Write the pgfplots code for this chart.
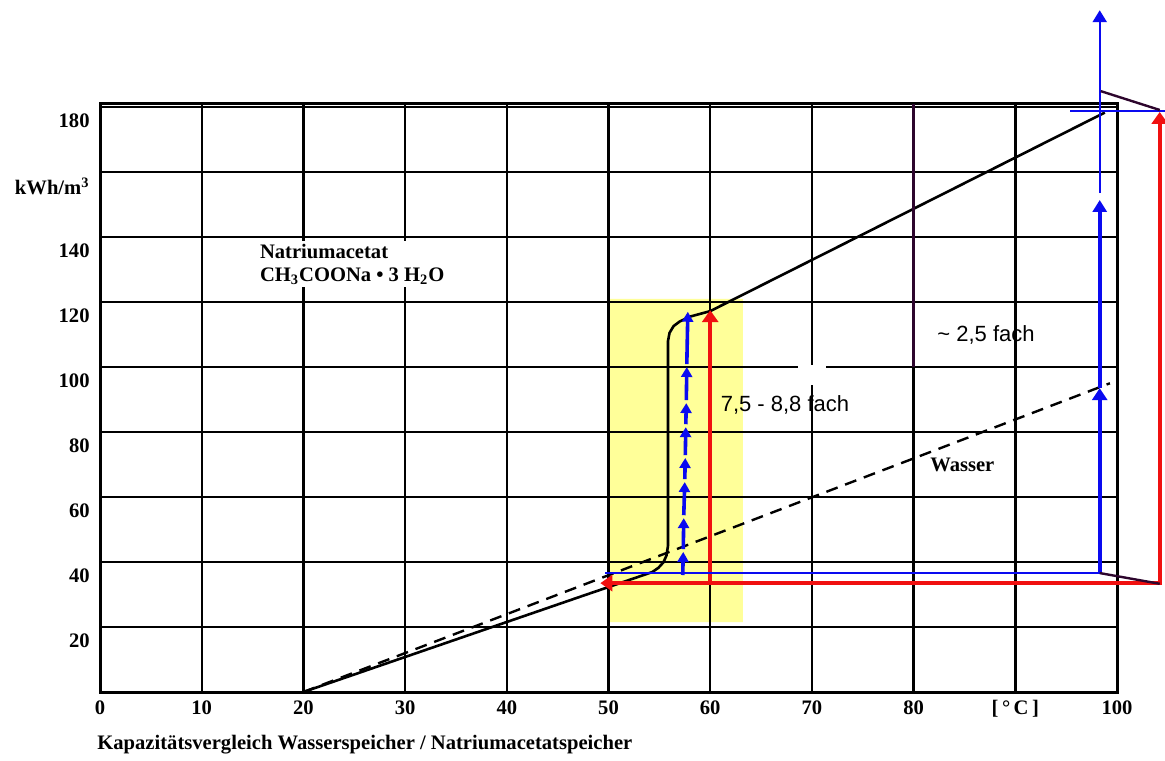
\documentclass[border=0pt]{standalone}
\usepackage{fontspec}
\setmainfont{Liberation Serif}
\newfontfamily\arialfont{Liberation Sans}
\usepackage{pgfplots}
\pgfplotsset{compat=1.18}
\usetikzlibrary{arrows.meta}
\definecolor{hiyellow}{RGB}{255,255,153}
\definecolor{darkpurple}{RGB}{45,5,45}
\definecolor{arrowred}{RGB}{240,16,16}
\definecolor{arrowblue}{RGB}{10,10,240}

\begin{document}
\begin{tikzpicture}
\begin{axis}[
    at={(0pt,0pt)}, anchor=south west,
    scale only axis, width=508.5pt, height=294.1pt,
    xmin=0, xmax=100, ymin=0, ymax=181,
    clip=false, set layers, no markers,
    axis line style={line width=1.5pt},
    grid=major, major grid style={line width=1.2pt, black},
    major tick length=0pt,
    xtick={0,10,...,100},
    xticklabels={0,10,20,30,40,50,60,70,80,{[\,°\,C\,]},100},
    ytick={20,40,...,180},
    yticklabels={20,40,60,80,100,120,140,{kWh/m\textsuperscript{3}},180},
    /pgf/number format/assume math mode=true,
    ticklabel style={font=\fontsize{10.3}{12}\selectfont\bfseries},
    xticklabel style={anchor=north, inner sep=0pt, yshift=-4pt},
    yticklabel style={anchor=east, inner sep=0pt, xshift=-5pt, yshift=-7pt},
]
% yellow marker field
\addplot[fill=hiyellow, draw=none, on layer=axis background]
    coordinates {(50,21.5) (63.2,21.5) (63.2,121) (50,121) (50,21.5)};

% Natriumacetat
\addplot[black, line width=1.3pt, line join=round] coordinates {
    (20,0) (47.2,29.3) (54.3,36.9) (54.9,38.2) (55.4,39.9) (55.7,42)
    (55.85,45) (55.85,108) (56,110.5) (56.4,112.6) (57,114) (58,115.5)
    (60,117.2) (98.8,178.3)};
% Wasser
\addplot[black, line width=1.2pt, dash pattern=on 6pt off 4pt]
    coordinates {(20,0) (99.3,95)};

% purple grid segment and gap
\addplot[darkpurple, line width=1.5pt] coordinates {(80,100) (80,181)};
\fill[white] (axis cs:68.6,94.5) rectangle (axis cs:71.4,100.6);

% red arrows
\addplot[arrowred, line width=2pt, -{Triangle[width=8pt,length=6pt]}]
    coordinates {(60,34) (60,117.5)};
\addplot[arrowred, line width=2pt, {Triangle[width=8pt,length=6pt]}-{Triangle[width=8pt,length=6pt]}]
    coordinates {(49.2,33.5) (104.2,33.5) (104.2,178.5)};

% blue lines
\addplot[arrowblue, line width=1.2pt] coordinates {(49.7,36.6) (98.3,36.6)};
\addplot[arrowblue, line width=2pt, -{Triangle[width=7.5pt,length=6pt]}]
    coordinates {(98.3,36.6) (98.3,93.5)};
\addplot[arrowblue, line width=2pt, -{Triangle[width=7pt,length=6pt]}]
    coordinates {(98.3,93.5) (98.3,151.4)};
\addplot[arrowblue, line width=1.2pt, -{Triangle[width=7pt,length=6pt]}]
    coordinates {(98.3,153.5) (98.3,209.8)};
\addplot[arrowblue, line width=1.2pt] coordinates {(95.4,178.8) (104.7,178.8)};

% blue arrow chain
\addplot[arrowblue, line width=1.8pt, -{Triangle[width=5.5pt,length=5pt]}] coordinates {(57.3,36) (57.35,43.1)};
\addplot[arrowblue, line width=1.8pt, -{Triangle[width=5.5pt,length=5pt]}] coordinates {(57.35,44) (57.4,53.5)};
\addplot[arrowblue, line width=1.8pt, -{Triangle[width=5.5pt,length=5pt]}] coordinates {(57.4,54.4) (57.5,64.6)};
\addplot[arrowblue, line width=1.8pt, -{Triangle[width=5.5pt,length=5pt]}] coordinates {(57.5,65.5) (57.55,72)};
\addplot[arrowblue, line width=1.8pt, -{Triangle[width=5.5pt,length=5pt]}] coordinates {(57.55,72.9) (57.6,81.5)};
\addplot[arrowblue, line width=1.8pt, -{Triangle[width=5.5pt,length=5pt]}] coordinates {(57.6,82.4) (57.65,88.9)};
\addplot[arrowblue, line width=1.8pt, -{Triangle[width=5.5pt,length=5pt]}] coordinates {(57.65,89.8) (57.7,100)};
\addplot[arrowblue, line width=1.8pt, -{Triangle[width=5.5pt,length=5pt]}] coordinates {(57.7,100.9) (57.8,117)};

% perspective lines
\addplot[darkpurple, line width=1.2pt] coordinates {(98.4,184.9) (104.2,179.1)};
\addplot[darkpurple, line width=1.2pt] coordinates {(98.3,36.6) (104.2,33.3)};

% labels
\node[anchor=west, fill=white, inner sep=1.5pt, align=left,
      font=\fontsize{10.3}{11.2}\selectfont\bfseries]
    at (axis cs:15.4,131.6) {Natriumacetat\\CH\textsubscript{3}COONa • 3 H\textsubscript{2}O};
\node[anchor=west, inner sep=0pt, font=\fontsize{10.3}{12}\selectfont\bfseries]
    at (axis cs:81.6,69.8) {Wasser};
\node[anchor=west, inner sep=0pt, text=black, font=\arialfont\fontsize{11}{13}\selectfont]
    at (axis cs:61,88.3) {7,5 - 8,8 fach};
\node[anchor=west, inner sep=0pt, text=black, font=\arialfont\fontsize{11}{13}\selectfont]
    at (axis cs:82.3,109.8) {\textasciitilde\ 2,5 fach};
\end{axis}
\node[anchor=west, inner sep=0pt, font=\fontsize{10.3}{12}\selectfont\bfseries]
    at (-1.5pt,-26.5pt) {Kapazitätsvergleich Wasserspeicher / Natriumacetatspeicher};
\pgfresetboundingbox
\path[use as bounding box] (-50pt,-34pt) rectangle (532.5pt,346pt);
\end{tikzpicture}
\end{document}
